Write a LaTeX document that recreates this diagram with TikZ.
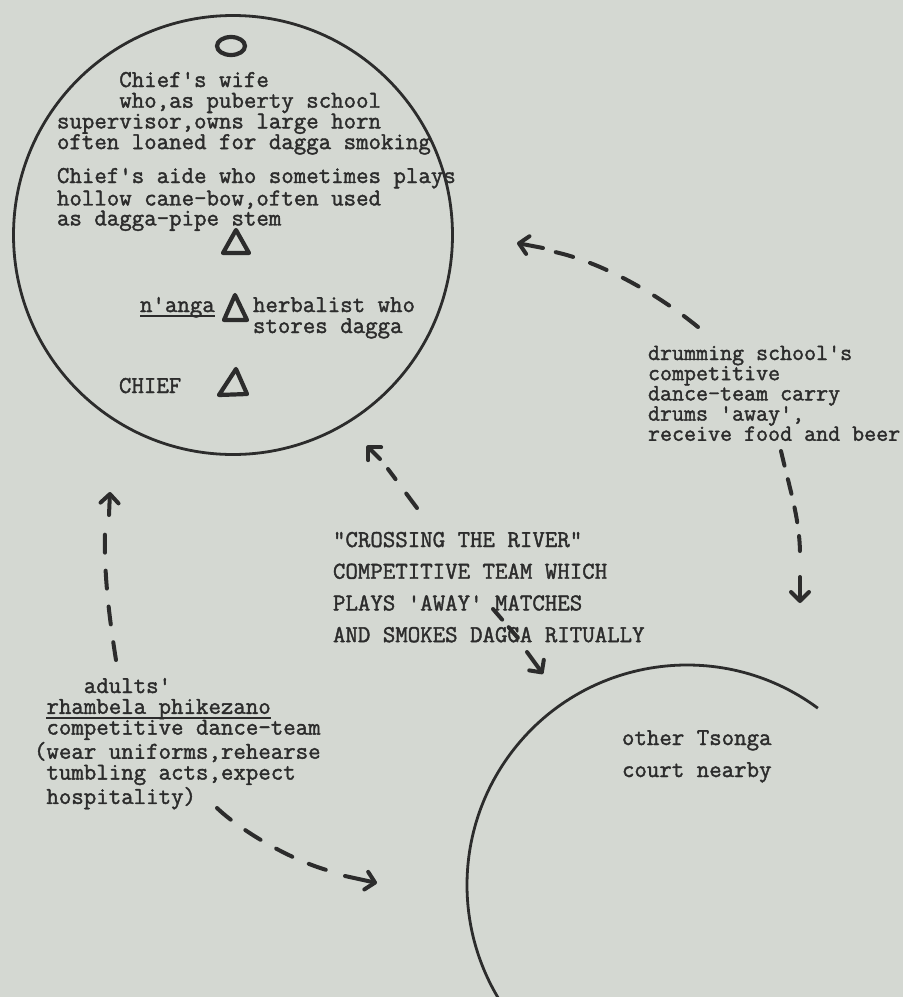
\documentclass[tikz,border=0pt]{standalone}
\usepackage{fontspec}
\setmonofont[FakeBold=1.6]{Latin Modern Mono}
\usetikzlibrary{arrows.meta}
\definecolor{paper}{RGB}{212,216,210}
\definecolor{ink}{RGB}{44,44,44}
\newcommand\typeul[1]{\setbox0\hbox{#1}\rlap{\rule[-2.5pt]{\wd0}{0.9pt}}\box0}
\newcommand\monospaces{\spaceskip=0pt\xspaceskip=0pt\relax}
\setlength\lineskiplimit{-20pt}
\setlength\lineskip{0pt}
\begin{document}
\begin{tikzpicture}[x=0.5pt,y=-0.5pt,
  txt/.style={font=\ttfamily\fontsize{12.1pt}{#1}\selectfont,
              text=ink, inner sep=0pt, outer sep=0pt, anchor=base west, align=left,
              execute at begin node=\monospaces},
  txt/.default={10.35pt},
  txts/.style={txt, font=\ttfamily\fontsize{11.66pt}{10.1pt}\selectfont},
  ring/.style={draw=ink, line width=1.4pt},
  dashline/.style={draw=ink, line width=2pt, line cap=round, dash pattern=on 9pt off 9pt},
  shortdash/.style={dashline, dash pattern=on 7pt off 5pt},
  tipline/.style={draw=ink, line width=2pt, line cap=round, -{Straight Barb[length=4.5pt,width=9pt,line cap=round,line join=round]}},
  sym/.style={draw=ink, line width=2.1pt, line join=round}]
\fill[paper] (0,0) rectangle (903,997);
\useasboundingbox (0,0) rectangle (903,997);

% circles
\node[circle, ring, minimum size=219.5pt, inner sep=0pt] (court) at (233,235) {};
\draw[ring] (687,885) ++(53.5:110pt) arc[start angle=53.5, end angle=215, radius=110pt];

% symbols in the chief's court
\draw[sym] (231,46) ellipse[x radius=7pt, y radius=4.5pt];
\draw[sym] (236,230) -- (249,253) -- (223,253) -- cycle;
\draw[sym] (235,295) -- (247,320) -- (224,320) -- cycle;
\draw[sym] (236,369) -- (247,394) -- (219,395) -- cycle;

% texts in the chief's court
\node[txt, text width=200pt] (wife) at (57,87)
  {\phantom{xxxxx}Chief's wife\\
   \phantom{xxxxx}who,as puberty school\\
   supervisor,owns large horn\\
   often loaned for dagga smoking};
\node[txt=10pt, text width=210pt] (aide) at (57,183)
  {Chief's aide who sometimes plays\\
   hollow cane-bow,often used\\
   as dagga-pipe stem};
\node[txt] (ng) at (140,312) {\typeul{n'anga}};
\node[txt=10.5pt, text width=90pt] (herb) at (253,312) {herbalist who\\stores dagga};
\node[txt] (chief) at (119,393) {CHIEF};

% drumming school
\node[txts, text width=140pt] (drum) at (648,360)
  {drumming school's\\
   competitive\\
   dance-team carry\\
   drums 'away',\\
   receive food and beer};

% crossing the river
\node[txt=15.85pt, text width=170pt] (cross) at (333,547)
  {"CROSSING THE RIVER"\\
   COMPETITIVE TEAM WHICH\\
   PLAYS 'AWAY' MATCHES\\
   AND SMOKES DAGGA RITUALLY};

% adults
\node[txt=10.4pt, text width=160pt] (adults) at (34,693)
  {\phantom{xxxx}adults'\\
   \phantom{x}\typeul{rhambela phikezano}\\
   \phantom{x}competitive dance-team\\
   (wear uniforms,rehearse\\
   \phantom{x}tumbling acts,expect\\
   \phantom{x}hospitality)};

% other court
\node[txt=16pt, text width=90pt] (tsonga) at (622,745) {other Tsonga\\court nearby};

% connector end points
\coordinate (A0) at (698,327); \coordinate (A1) at (555,252);
\coordinate (A2) at (543,248); \coordinate (A3) at (517,243);
\coordinate (B0) at (781,451); \coordinate (B1) at (800,555);
\coordinate (B2) at (800,577); \coordinate (B3) at (800,603);
\coordinate (C0) at (417,508); \coordinate (C1) at (388,469);
\coordinate (C2) at (380,459); \coordinate (C3) at (367,446);
\coordinate (D0) at (493,609); \coordinate (D1) at (518,638);
\coordinate (D2) at (527,652); \coordinate (D3) at (543,674);
\coordinate (E0) at (116,660); \coordinate (E1) at (105,531);
\coordinate (E2) at (109,515); \coordinate (E3) at (110,492);
\coordinate (F0) at (217,808); \coordinate (F1) at (330,871);
\coordinate (F2) at (345,876); \coordinate (F3) at (377,883);

% connectors
\draw[dashline] (A0) .. controls (655,292) and (600,262) .. (A1);
\draw[tipline] (A2) -- (A3);
\draw[dashline, dash pattern=on 7.5pt off 7pt] (B0) .. controls (790,490) and (800,520) .. (B1);
\draw[tipline] (B2) -- (B3);
\draw[dashline] (C0) -- (C1);
\draw[tipline] (C2) -- (C3);
\draw[shortdash] (D0) -- (D1);
\draw[tipline] (D2) -- (D3);
\draw[dashline] (E0) .. controls (108,610) and (104,570) .. (E1);
\draw[tipline] (E2) -- (E3);
\draw[dashline] (F0) .. controls (240,830) and (290,860) .. (F1);
\draw[tipline] (F2) -- (F3);
\end{tikzpicture}
\end{document}
